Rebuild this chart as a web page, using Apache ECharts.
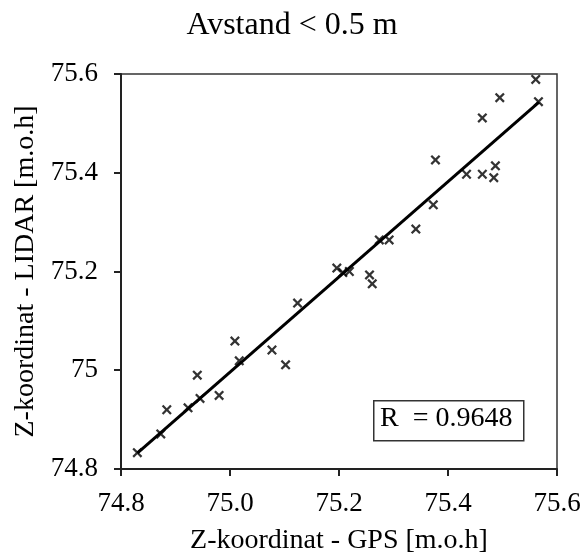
<!DOCTYPE html>
<html><head><meta charset="utf-8">
<script src="https://cdn.jsdelivr.net/npm/echarts@6/dist/echarts.min.js"></script>
<style>html,body{margin:0;padding:0;background:#fff}#c{width:584px;height:557px}</style>
</head><body><div id="c"></div>
<script>
const titleText = 'Avstand < 0.5 m';
const xName = 'Z-koordinat - GPS [m.o.h]';
const yName = 'Z-koordinat - LIDAR [m.o.h]';
const rText = 'R  = 0.9648';
const gpsX = [75.561, 75.566, 75.495, 75.463, 75.377, 75.487, 75.434, 75.463, 75.484, 75.373, 75.341, 75.274, 75.292, 75.196, 75.207, 75.219, 75.256, 75.261, 75.124, 75.009, 75.017, 75.077, 75.102, 74.940, 74.980, 74.945, 74.923, 74.884, 74.873, 74.830];
const lidarY = [75.589, 75.544, 75.552, 75.511, 75.426, 75.414, 75.397, 75.397, 75.390, 75.335, 75.286, 75.264, 75.264, 75.207, 75.198, 75.200, 75.193, 75.175, 75.136, 75.059, 75.019, 75.041, 75.011, 74.990, 74.949, 74.943, 74.924, 74.920, 74.871, 74.833];
const fitX = [74.83, 75.567];
const fitY = [74.832, 75.543];
const xTicks = ['74.8', '75.0', '75.2', '75.4', '75.6'];
const yTicks = ['74.8', '75', '75.2', '75.4', '75.6'];

const serif = '"Liberation Serif", "DejaVu Serif", serif';
const chart = echarts.init(document.getElementById('c'));
const crossPath = 'path://M0,1.6 L1.6,0 L5,3.4 L8.4,0 L10,1.6 L6.6,5 L10,8.4 L8.4,10 L5,6.6 L1.6,10 L0,8.4 L3.4,5 Z';
chart.setOption({
  animation: false,
  backgroundColor: '#fff',
  title: { text: titleText, left: 'center', top: 5, textStyle: { fontFamily: serif, fontSize: 32, fontWeight: 'normal', color: '#000' } },
  grid: { left: 121, right: 27, top: 74, bottom: 88, show: true, borderColor: '#333', borderWidth: 1.5, outerBoundsMode: 'none', containLabel: false },
  xAxis: {
    type: 'value', min: 74.8, max: 75.6, interval: 0.2,
    name: xName, nameLocation: 'middle', nameGap: 58,
    nameTextStyle: { fontFamily: serif, fontSize: 28, color: '#000' },
    axisLine: { show: true, onZero: false, lineStyle: { color: '#222', width: 2 } },
    axisTick: { show: true, inside: false, length: 7, lineStyle: { color: '#222', width: 2 } },
    splitLine: { show: false },
    axisLabel: { fontFamily: serif, fontSize: 27, color: '#000', margin: 21, formatter: (v) => xTicks[Math.round((v - 74.8) / 0.2)] }
  },
  yAxis: {
    type: 'value', min: 74.8, max: 75.6, interval: 0.2,
    name: yName, nameLocation: 'middle', nameGap: 80,
    nameTextStyle: { fontFamily: serif, fontSize: 28, color: '#000' },
    axisLine: { show: true, onZero: false, lineStyle: { color: '#222', width: 2 } },
    axisTick: { show: true, inside: false, length: 7, lineStyle: { color: '#222', width: 2 } },
    splitLine: { show: false },
    axisLabel: { fontFamily: serif, fontSize: 27, color: '#000', margin: 23, formatter: (v) => yTicks[Math.round((v - 74.8) / 0.2)] }
  },
  series: [
    {
      type: 'line', data: fitX.map((x, i) => [x, fitY[i]]), showSymbol: false, symbol: 'none',
      lineStyle: { color: '#000', width: 3 }, z: 2
    },
    {
      type: 'scatter', data: gpsX.map((x, i) => [x, lidarY[i]]), symbol: crossPath, symbolSize: 10,
      itemStyle: { color: '#000' }, z: 3
    }
  ],
  graphic: [
    { type: 'rect', left: 373, top: 400, shape: { width: 150, height: 40 }, style: { fill: '#fff', stroke: '#333', lineWidth: 1.5 }, z: 10 },
    { type: 'text', left: 380, top: 405, style: { text: rText, font: '28px ' + serif, fill: '#000' }, z: 11 }
  ]
});
</script></body></html>
